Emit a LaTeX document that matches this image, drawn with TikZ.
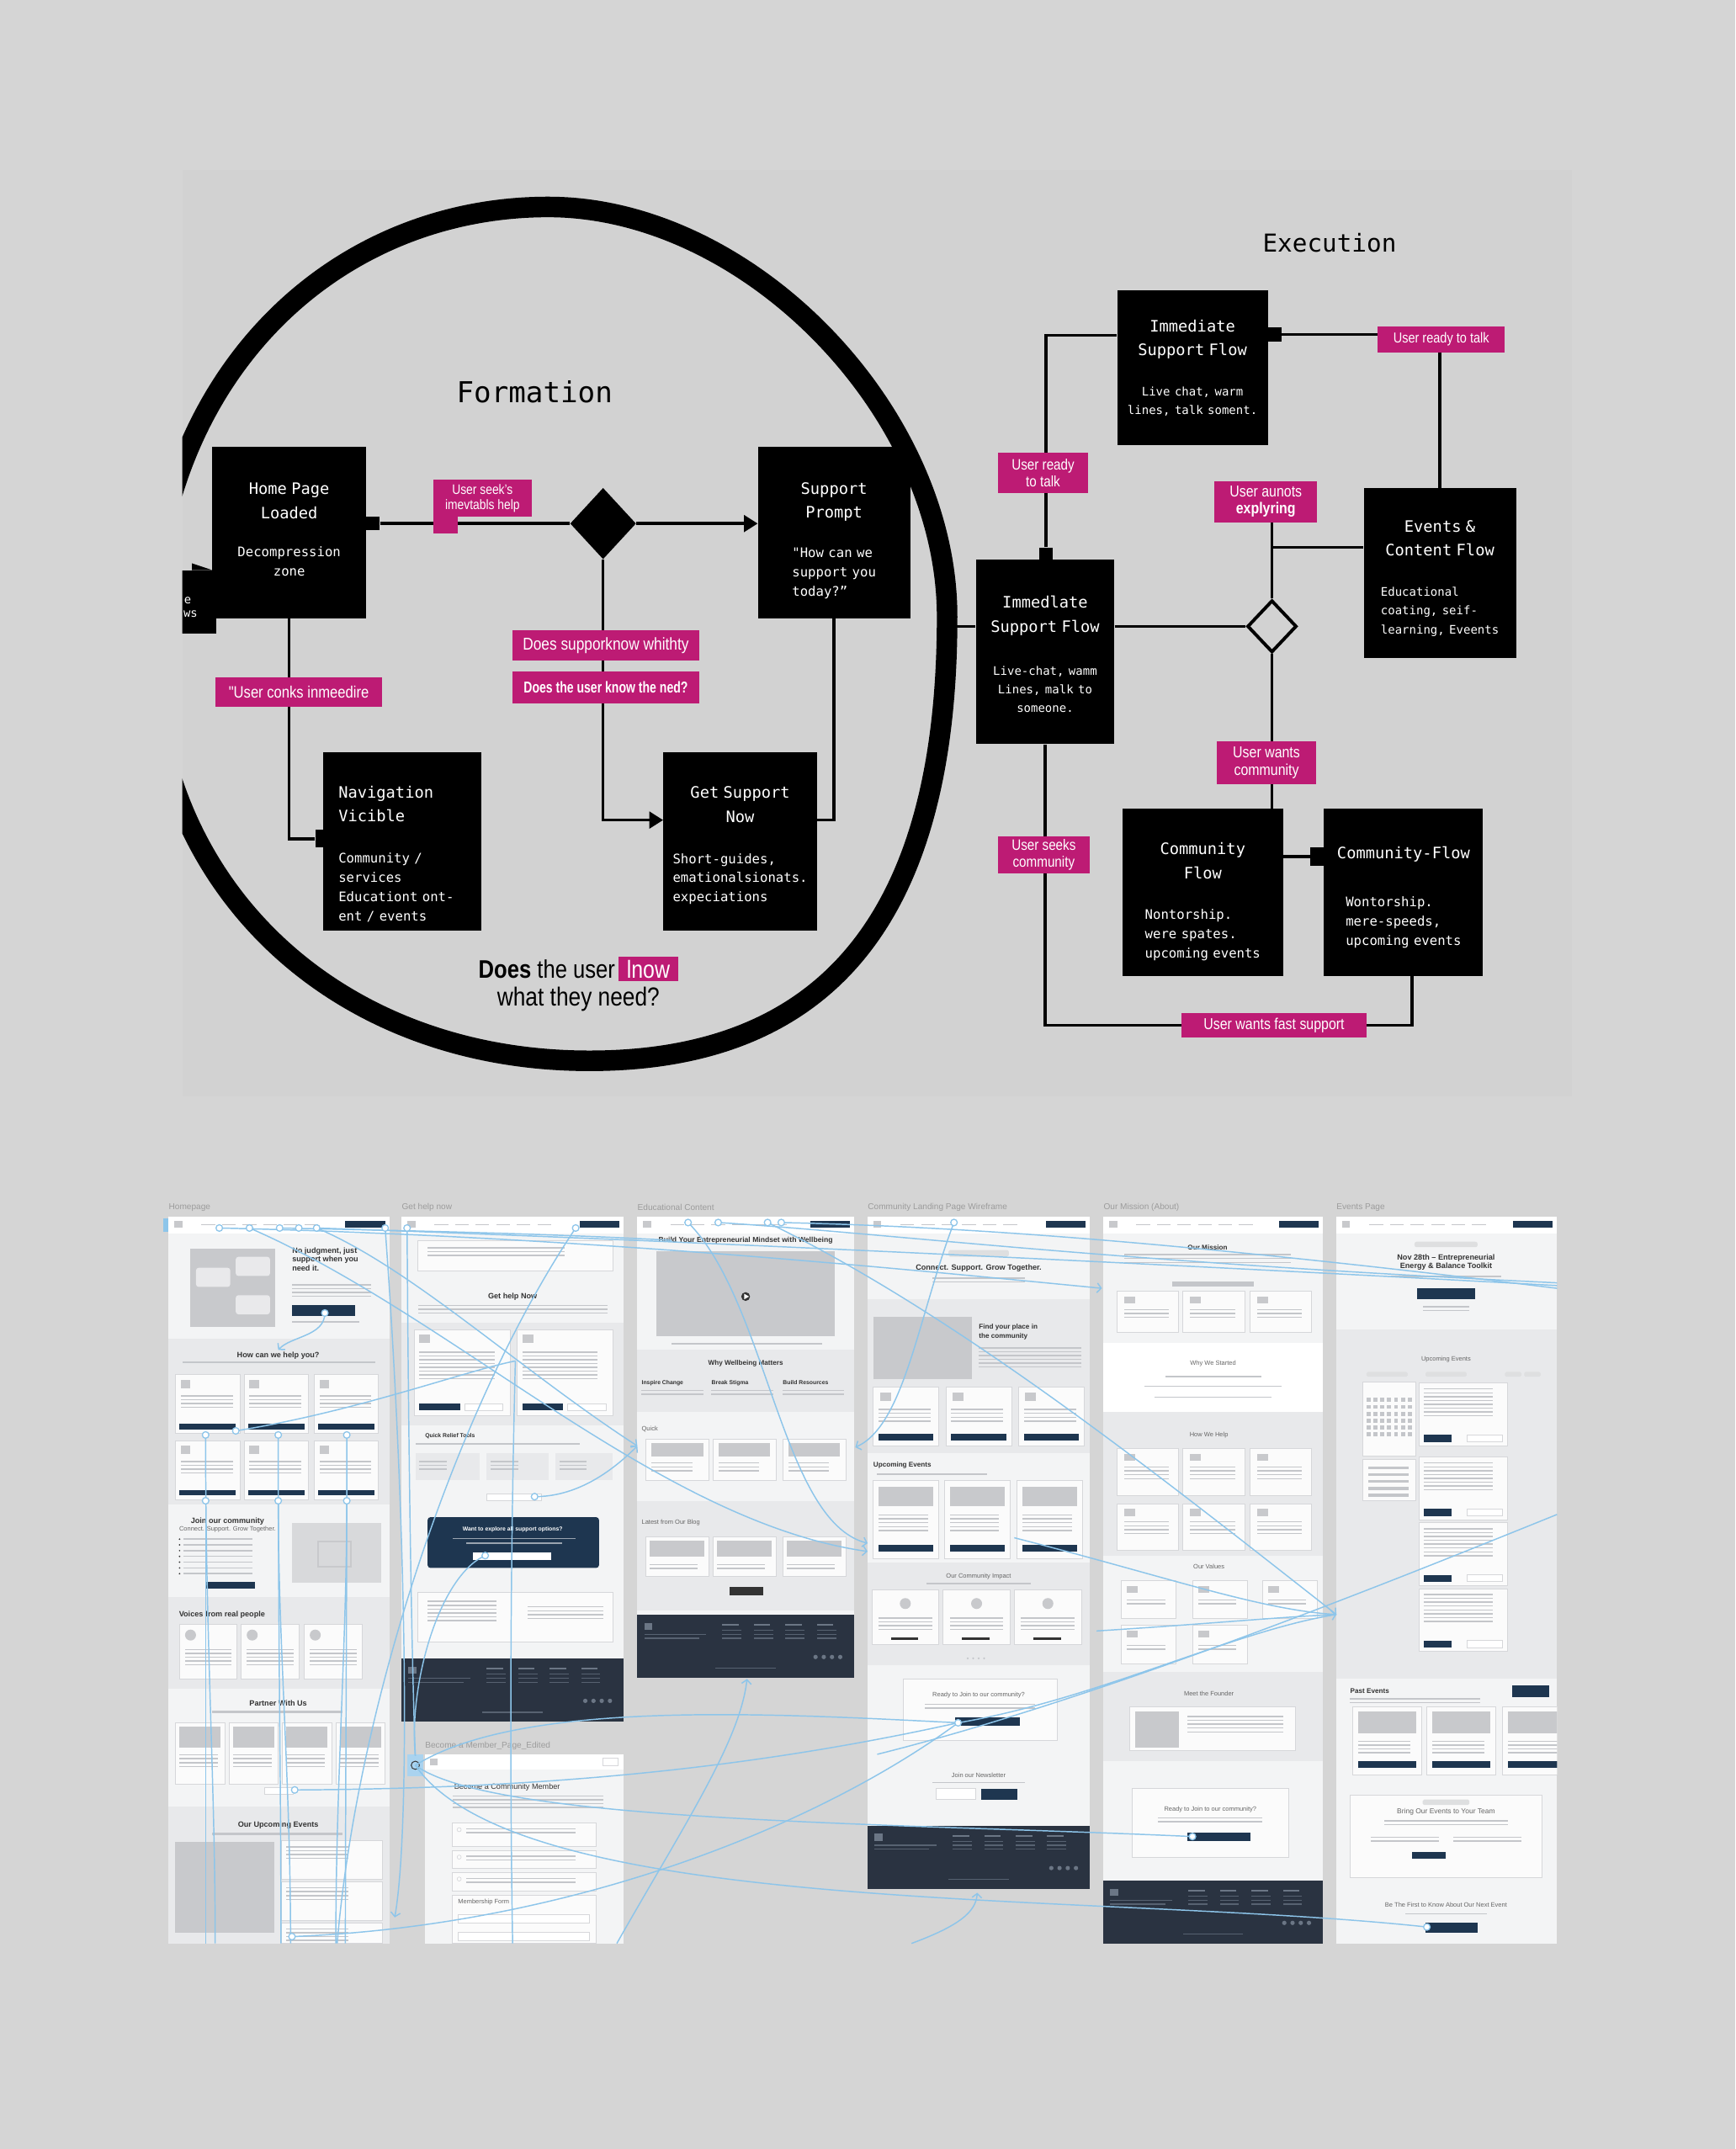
\documentclass[tikz,border=0pt]{standalone}
\usepackage{fontspec}
\setmainfont{Liberation Sans}
\newfontfamily\monofont{DejaVu Sans Mono}
\newfontfamily\condfont[FakeStretch=0.85]{Liberation Sans}
\newfontfamily\narrowfont[FakeStretch=0.75]{Liberation Sans}
\usepackage{xcolor}
\usepackage{tikz}
\usetikzlibrary{calc, shapes.geometric, arrows.meta, positioning}

\definecolor{pagebg}{HTML}{D5D5D5}
\definecolor{panelbg}{HTML}{D2D2D2}
\definecolor{tagpink}{HTML}{BD1B74}
\definecolor{wfpage}{HTML}{F3F4F5}
\definecolor{wfband}{HTML}{E8E9EB}
\definecolor{wfcard}{HTML}{FBFBFB}
\definecolor{wfedge}{HTML}{D6D7DA}
\definecolor{wfimg}{HTML}{C8C9CC}
\definecolor{wfline}{HTML}{C4C6CA}
\definecolor{wfnavy}{HTML}{1E3650}
\definecolor{wffoot}{HTML}{2A3341}
\definecolor{footln}{HTML}{6B7685}
\definecolor{wftext}{HTML}{333333}
\definecolor{wfsub}{HTML}{666666}
\definecolor{wflabel}{HTML}{9C9C9C}
\definecolor{linkblue}{HTML}{8DC5EA}

% box text
\newcommand{\ttl}{\monofont\fontsize{11.5}{17.5}\selectfont}
\newcommand{\bdy}{\monofont\fontsize{9.6}{14}\selectfont}
\newcommand{\bdys}{\monofont\fontsize{8.6}{13.6}\selectfont}

% wireframe helpers
\newcommand{\wflines}[4]{%
  \foreach \k in {1,...,#4}{\fill[wfline] ({#1},{#2+2.8*(\k-1)}) rectangle ++(#3,0.9);}}
\newcommand{\wfnav}[2]{%
  \fill[white] (#1,888) rectangle (#2,900);
  \fill[wfimg] ({#1+4},891) rectangle ++(6,5);
  \foreach \t in {0,...,5}{\fill[wfline] ({#1+24+\t*15},893) rectangle ++(10,1);}
  \fill[wfnavy] ({#2-32},891) rectangle ({#2-3},896);}
\newcommand{\wffoot}[4]{%
  \fill[wffoot] (#1,#2) rectangle (#3,#4);
  \fill[footln] ({#1+5},{#2+6}) rectangle ++(6,5);
  \fill[footln!70!wffoot] ({#1+5},{#2+14}) rectangle ++(45,0.7);
  \fill[footln!70!wffoot] ({#1+5},{#2+17}) rectangle ++(40,0.7);
  \foreach \t in {0,1,2,3}{%
    \fill[footln] ({#1+62+\t*23},{#2+7}) rectangle ++(12,1);
    \foreach \r in {1,2,3}{\fill[footln!70!wffoot] ({#1+62+\t*23},{#2+8+3*\r}) rectangle ++(14,0.7);}
    \fill[footln] ({#3-28+\t*6},{#4-15}) circle (1.6);}
  \fill[footln!70!wffoot] ({(#1+#3)/2-22},{#4-7}) rectangle ++(44,0.7);}

\tikzset{
  flowbox/.style={fill=black, inner sep=0pt},
  boxtext/.style={text=white, inner sep=0pt, align=center},
  stub/.style={fill=black, inner sep=0pt, minimum width=10pt, minimum height=10pt},
  flowline/.style={line width=2.2pt},
  flowarrow/.style={flowline, -{Triangle[length=10pt,width=12pt]}},
  tag/.style={fill=tagpink, text=white, inner sep=0pt, align=center,
    font=\condfont\fontsize{11}{12.5}\selectfont},
  wfcardst/.style={fill=wfcard, draw=wfedge, line width=0.4pt},
  wfhead/.style={inner sep=0pt, text=wftext, font=\bfseries\fontsize{5.6}{6.6}\selectfont},
  wfsub/.style={inner sep=0pt, text=wftext, font=\bfseries\fontsize{4.2}{5}\selectfont},
  wfsmall/.style={inner sep=0pt, text=wfsub, font=\fontsize{4.6}{5.6}\selectfont},
  wflab/.style={inner sep=0pt, text=wflabel, font=\fontsize{6.2}{7}\selectfont},
  link/.style={draw=linkblue, line width=0.9pt},
  linkend/.style={link, -{Straight Barb[length=3pt,width=7pt]}},
  linkdot/.style={draw=linkblue, fill=white, line width=0.8pt}
}

\begin{document}
\begin{tikzpicture}[x=1pt, y=-1pt]
    \useasboundingbox (0,0) rectangle (1266,1568);
    \fill[pagebg] (0,0) rectangle (1266,1568);
    \fill[panelbg] (133,124) rectangle (1147,800);

    % =================================================================
    % FORMATION
    % =================================================================
    \begin{scope}
        \clip (133,124) rectangle (1147,800);
        \draw[line width=15pt] (110,470) .. controls (110,278) and (240,151) .. (400,151)
            .. controls (546,151) and (691,300) .. (691,450)
            .. controls (691,667) and (605,774) .. (430,774)
            .. controls (244,774) and (110,646) .. cycle;
        % clipped box at the left edge
        \fill (120,416) rectangle (158,462);
        \fill (140,411) -- (155,416) -- (140,416) -- cycle;
        \node[text=white, inner sep=0pt, font=\monofont\fontsize{8.5}{9}\selectfont] (cute) at (137,438) {e};
        \node[text=white, inner sep=0pt, font=\monofont\fontsize{8.5}{9}\selectfont] (cuws) at (139,448) {ws};
    \end{scope}

    \node[inner sep=0pt, font=\monofont\fontsize{21}{24}\selectfont] (formtitle) at (390,286) {Formation};

    \node[flowbox, minimum width=112pt, minimum height=125pt] (home) at (211,388.5) {};
    \node[boxtext, text width=110pt] (hometext) at ($(home.center)+(0,-2)$)
        {{\ttl Home Page\\Loaded\par}\vspace{14pt}{\bdy Decompression\\zone\par}};
    \node[flowbox, minimum width=111pt, minimum height=125pt] (support) at (608.5,388.5) {};
    \node[boxtext, text width=109pt] (supporttext) at ($(support.center)+(0,7)$)
        {{\ttl Support\\Prompt\par}\vspace{15pt}{\bdy\begin{tabular}[t]{@{}l@{}}"How can we\\support you\\today?”\end{tabular}\par}};
    \node[flowbox, minimum width=115pt, minimum height=130pt] (navig) at (293.5,614) {};
    \node[boxtext, text width=93pt, align=left] (navigtext) at ($(navig.center)+(0,9)$)
        {{\ttl Navigation\\Vicible\par}\vspace{16pt}{\bdy Community /\\services\\Educationt ont-\\ent / events\par}};
    \node[flowbox, minimum width=112pt, minimum height=130pt] (getnow) at (540,614) {};
    \node[boxtext, text width=110pt] (getnowtext) at ($(getnow.center)+(0,4)$)
        {{\ttl Get Support\\Now\par}\vspace{16pt}{\bdy\begin{tabular}[t]{@{}l@{}}Short-guides,\\emationalsionats.\\expeciations\end{tabular}\par}};

    \node[diamond, fill=black, minimum width=48pt, minimum height=52pt, inner sep=0pt] (ask) at (440,382) {};
    \node[stub] (homestub) at (272,382) {};
    \node[stub, minimum width=8pt, minimum height=13pt] (navstub) at (234,612) {};

    \draw[flowline] (homestub.east) -- (ask.west);
    \draw[flowarrow] (ask.east) -- (ask.east -| support.west);
    \draw[flowarrow] (ask.south) |- ($(getnow.north west)!0.38!(getnow.south west)$);
    \draw[flowline] (home.south) |- (navstub.west);
    \draw[flowline] (support.south) |- ($(getnow.north east)!0.38!(getnow.south east)$);

    \node[tag, minimum width=72pt, minimum height=27pt, font=\condfont\fontsize{10}{11}\selectfont] (tagseek) at (352,363.5) {User seek’s\\imevtabls help};
    \fill[tagpink] (316,376) rectangle (334,389);
    \node[tag, minimum width=136pt, minimum height=22pt, font=\condfont\fontsize{12.5}{14}\selectfont] (tagwhy) at (442,471) {Does supporknow whithty};
    \node[tag, minimum width=136pt, minimum height=23pt, font=\narrowfont\bfseries\fontsize{11.5}{14}\selectfont] (tagneed) at (442,501.5) {Does the user know the ned?};
    \node[tag, minimum width=122pt, minimum height=22pt, font=\condfont\fontsize{12}{14}\selectfont] (tagconks) at (218,505) {"User conks inmeedire};

    \node[inner sep=0pt, anchor=east, font=\condfont\fontsize{18.5}{20}\selectfont] (askline) at (449,707) {\textbf{Does} the user};
    \node[tag, minimum width=44pt, minimum height=18pt, font=\condfont\fontsize{18}{20}\selectfont] (asktag) at (473,707) {lnow};
    \node[inner sep=0pt, font=\condfont\fontsize{19}{20}\selectfont] (askline2) at (422,729) {what they need?};

    % =================================================================
    % EXECUTION
    % =================================================================
    \node[inner sep=0pt, font=\monofont\fontsize{18}{22}\selectfont] (exectitle) at (970,177) {Execution};

    \node[flowbox, minimum width=110pt, minimum height=113pt] (topflow) at (870,268.5) {};
    \node[boxtext, text width=108pt] (topflowtext) at (topflow.center)
        {{\ttl Immediate\\Support Flow\par}\vspace{16pt}{\bdys Live chat, warm\\lines, talk soment.\par}};
    \node[flowbox, minimum width=101pt, minimum height=135pt] (leftflow) at (762.5,475.5) {};
    \node[boxtext, text width=100pt] (leftflowtext) at ($(leftflow.center)+(0,2)$)
        {{\ttl Immedlate\\Support Flow\par}\vspace{18pt}{\bdys Live-chat, wamm\\Lines, malk to\\someone.\par}};
    \node[flowbox, minimum width=111pt, minimum height=124pt] (events) at (1050.5,418) {};
    \node[boxtext, text width=109pt] (eventstext) at ($(events.center)+(0,5)$)
        {{\ttl Events \&\\Content Flow\par}\vspace{16pt}{\bdys\begin{tabular}[t]{@{}l@{}}Educational\\coating, seif-\\learning, Eveents\end{tabular}\par}};
    \node[flowbox, minimum width=117pt, minimum height=122pt] (commflow) at (877.5,651) {};
    \node[boxtext, text width=115pt] (commflowtext) at ($(commflow.center)+(0,8)$)
        {{\ttl Community\\Flow\par}\vspace{16pt}{\bdy\begin{tabular}[t]{@{}l@{}}Nontorship.\\were spates.\\upcoming events\end{tabular}\par}};
    \node[flowbox, minimum width=116pt, minimum height=122pt] (cflow) at (1024,651) {};
    \node[boxtext, text width=114pt] (cflowtext) at ($(cflow.center)+(0,5)$)
        {{\ttl Community-Flow\par}\vspace{21pt}{\bdy\begin{tabular}[t]{@{}l@{}}Wontorship.\\mere-speeds,\\upcoming events\end{tabular}\par}};

    \node[diamond, draw=black, line width=2.4pt, minimum width=36pt, minimum height=38pt, inner sep=0pt] (pick) at (928,457) {};
    \node[stub, minimum height=9pt] (litop) at (763,404) {};
    \node[stub] (topstub) at (930,244) {};
    \node[stub, minimum height=13pt] (cfstub) at (961,625) {};
    \coordinate (ringedge) at (697,457);
    \coordinate (cfout) at ($(cflow.south)+(6,0)$);
    \coordinate (evin) at ($(events.north west)!0.35!(events.south west)$);

    \draw[flowline] (ringedge) -- (ringedge -| leftflow.west);
    \draw[flowline] (litop.north) |- ($(topflow.north west)!0.29!(topflow.south west)$);
    \draw[flowline] (topstub.east) -| (events.north);
    \draw[flowline] (pick.west -| leftflow.east) -- (pick.west);
    \draw[flowline] (pick.north) -- (pick.north |- 0,381);
    \draw[flowline] (evin -| pick.north) -- (evin);
    \draw[flowline] (pick.south) -- (pick.south |- commflow.north);
    \draw[flowline] (cfstub.west -| commflow.east) -- (cfstub.west);
    \draw[flowline] (leftflow.south) |- ($(cfout)+(0,36)$) -- (cfout);

    \node[tag, minimum width=66pt, minimum height=30pt] (tagtalk) at (761,345) {User ready\\to talk};
    \node[tag, minimum width=93pt, minimum height=19pt, font=\condfont\fontsize{10.5}{12}\selectfont] (tagtalk2) at (1051.5,247.5) {User ready to talk};
    \node[tag, minimum width=75pt, minimum height=30pt, font=\condfont\fontsize{11.5}{12.5}\selectfont] (tagexplore) at (923.5,366) {User aunots\\\textbf{explyring}};
    \node[tag, minimum width=72pt, minimum height=31pt, font=\condfont\fontsize{11.5}{13}\selectfont] (tagwants) at (924,556.5) {User wants\\community};
    \node[tag, minimum width=67pt, minimum height=27pt] (tagseeks) at (761.5,623.5) {User seeks\\community};
    \node[tag, minimum width=135pt, minimum height=18pt, font=\condfont\fontsize{11.5}{13}\selectfont] (tagfast) at (929.5,748) {User wants fast support};

    % =================================================================
    % WIREFRAMES - HOMEPAGE
    % =================================================================
    \fill[linkblue] (119,889) rectangle (123,899);
    \node[wflab, anchor=west] (labhome) at (123,881) {Homepage};
    \fill[wfpage] (123,888) rectangle (284,1418);
    \wfnav{123}{284}
    \fill[wfimg] (139,911) rectangle (201,968);
    \foreach \bx/\by in {143/925, 172/917, 172/945}{\fill[white!60!wfimg, rounded corners=2pt] (\bx,\by) rectangle ++(25,14);}
    \node[wfhead, anchor=north west, align=left] (herohome) at (213,910) {No judgment, just\\support when you\\need it.};
    \wflines{213}{937}{58}{4}
    \fill[wfnavy] (213,952) rectangle (259,960);
    \fill[wfline] (213,964) rectangle (262,965.2);
    \fill[wfband] (123,977) rectangle (284,1098);
    \node[wfhead] (helphome) at (203,989) {How can we help you?};
    \fill[wfline] (133,993.5) rectangle (274,994.4);
    \foreach \cx in {128,178,229}{\foreach \cy in {1003,1051}{
        \filldraw[wfcardst] (\cx,\cy) rectangle ++(47,43);
        \fill[wfimg] ({\cx+4},{\cy+4}) rectangle ++(7,6);
        \wflines{\cx+4}{\cy+15}{38}{4}
        \fill[wfnavy] ({\cx+3},{\cy+36}) rectangle ++(41,4);}}
    \node[wfhead] (joinhome) at (166,1110) {Join our community};
    \node[wfsmall] (joinsub) at (166,1116) {Connect. Support. Grow Together.};
    \foreach \k in {0,...,6}{\fill[wftext] (131,{1123+4.2*\k}) circle (0.6); \fill[wfline] (134,{1122.5+4.2*\k}) rectangle ++(50,0.9);}
    \fill[wfnavy] (150,1154) rectangle (186,1159);
    \fill[wfimg!70!white] (213,1111) rectangle (278,1155);
    \draw[wfimg, line width=1.2pt] (232,1125) rectangle (256,1143);
    \fill[wfband] (123,1165) rectangle (284,1232);
    \node[wfhead] (voicehome) at (162,1178) {Voices from real people};
    \foreach \cx in {131,176,222}{\filldraw[wfcardst] (\cx,1185) rectangle ++(42,40); \fill[wfimg] ({\cx+8},1193) circle (4); \wflines{\cx+4}{1203}{34}{5}}
    \node[wfhead] (partnerhome) at (203,1243) {Partner With Us};
    \fill[wfline] (155,1248) rectangle (250,1250);
    \foreach \cx in {128,167,206,245}{\filldraw[wfcardst] (\cx,1257) rectangle ++(36,45); \fill[wfimg] ({\cx+3},1260) rectangle ++(30,15); \wflines{\cx+3}{1280}{28}{4}}
    \draw[wfedge, fill=white] (193,1304) rectangle (214,1309);
    \fill[wfband] (123,1318) rectangle (284,1418);
    \node[wfhead] (eventhome) at (203,1332) {Our Upcoming Events};
    \fill[wfline] (155,1337) rectangle (250,1339);
    \fill[wfimg] (128,1344) rectangle (200,1410);
    \foreach \cy in {1343,1373,1403}{\filldraw[wfcardst] (205,\cy) rectangle (279,{min(\cy+28,1418)}); \wflines{209}{\cy+4}{45}{4}}

    % =================================================================
    % GET HELP NOW + BECOME A MEMBER
    % =================================================================
    \node[wflab, anchor=west] (labhelp) at (293,881) {Get help now};
    \fill[wfpage] (293,888) rectangle (455,1210);
    \wfnav{293}{455}
    \filldraw[wfcardst] (305,905) rectangle (447,927);
    \wflines{312}{910}{100}{3}
    \node[wfhead] (helpnow) at (374,946) {Get help Now};
    \wflines{305}{952}{138}{3}
    \fill[wfband] (293,965) rectangle (455,1040);
    \foreach \cx in {302,377}{\filldraw[wfcardst] (\cx,970) rectangle ++(70,63); \fill[wfimg] ({\cx+4},974) rectangle ++(8,6); \wflines{\cx+4}{986}{55}{8} \fill[wfnavy] ({\cx+4},1024) rectangle ++(30,5); \draw[wfedge, fill=white] ({\cx+37},1024) rectangle ++(28,5);}
    \node[wfsub, anchor=west] (quickhelp) at (310,1048) {Quick Relief Tools};
    \wflines{303}{1053}{120}{1}
    \foreach \cx/\w in {303/47, 355/45, 405/42}{\fill[wfband] (\cx,1060) rectangle ++(\w,20); \wflines{\cx+3}{1066}{20}{3}}
    \draw[wfedge, fill=white] (355,1090) rectangle (395,1095);
    \fill[wfnavy, rounded corners=2pt] (312,1107) rectangle (437,1144);
    \node[wfsub, text=white] (explorehelp) at (374,1116) {Want to explore all support options?};
    \fill[white!55!wfnavy] (330,1122) rectangle (420,1122.9);
    \fill[white!55!wfnavy] (340,1125.5) rectangle (410,1126.4);
    \fill[white] (345,1133) rectangle (402,1138);
    \filldraw[wfcardst] (305,1162) rectangle (447,1198);
    \wflines{312}{1168}{50}{6}
    \wflines{385}{1172}{55}{4}
    \wffoot{293}{1210}{455}{1256}

    \node[wflab, anchor=west] (labmember) at (310,1274) {Become a Member\_Page\_Edited};
    \fill[wfpage] (310,1280) rectangle (455,1418);
    \fill[white] (310,1280) rectangle (455,1291);
    \fill[wfimg] (314,1283) rectangle ++(5,5);
    \draw[wfedge] (440,1283) rectangle (451,1288);
    \node[wfhead, font=\fontsize{5.6}{6.6}\selectfont] (membertitle) at (370,1304) {Become a Community Member};
    \wflines{330}{1310}{110}{4}
    \foreach \cy/\h in {1330/17, 1350/13, 1366/14}{\filldraw[wfcardst] (330,\cy) rectangle ++(105,\h); \draw[wfedge] (335,{\cy+5}) circle (1.5); \wflines{340}{\cy+4}{80}{2}}
    \filldraw[wfcardst] (330,1383) rectangle (435,1418);
    \node[wfsmall, anchor=west] (memberform) at (334,1388) {Membership Form};
    \foreach \cy in {1397,1410}{\draw[wfedge, fill=white] (334,\cy) rectangle ++(96,6);}
    \fill[linkblue!75!white] (297,1280) rectangle (309,1296);
    \draw[wftext, line width=0.6pt] (303,1288) circle (3);

    % =================================================================
    % EDUCATIONAL CONTENT
    % =================================================================
    \node[wflab, anchor=west] (labedu) at (465,881) {Educational Content};
    \fill[wfpage] (465,888) rectangle (623,1178);
    \wfnav{465}{623}
    \node[wfhead, font=\bfseries\fontsize{5.3}{6}\selectfont] (edutitle) at (544,905) {Build Your Entrepreneurial Mindset with Wellbeing};
    \fill[wfimg] (479,913) rectangle (609,975);
    \fill[wftext] (544,946) circle (3.2);
    \fill[white] (543,944) -- (546.5,946) -- (543,948) -- cycle;
    \wflines{490}{980}{110}{1}
    \fill[wfband] (465,985) rectangle (623,1030);
    \node[wfhead, font=\bfseries\fontsize{5}{6}\selectfont] (eduwhy) at (544,995) {Why Wellbeing Matters};
    \foreach \cx/\t/\n in {468/Inspire Change/eduinsp, 519/Break Stigma/edubreak, 571/Build Resources/edubuild}{\node[wfsub, anchor=west] (\n) at (\cx,1009) {\t}; \wflines{\cx}{1014}{45}{2}}
    \node[wfsmall, anchor=west] (eduquick) at (468,1043) {Quick};
    \foreach \cx in {471,520,571}{\filldraw[wfcardst] (\cx,1050) rectangle ++(46,30); \fill[wfimg] ({\cx+4},1053) rectangle ++(38,10); \wflines{\cx+4}{1067}{30}{3}}
    \fill[wfband] (465,1095) rectangle (623,1175);
    \node[wfsmall, anchor=west] (edublog) at (468,1111) {Latest from Our Blog};
    \foreach \cx in {471,520,571}{\filldraw[wfcardst] (\cx,1121) rectangle ++(46,29); \fill[wfimg] ({\cx+3},1124) rectangle ++(40,12); \wflines{\cx+3}{1141}{35}{2}}
    \fill[wftext] (532,1158) rectangle (557,1164);
    \wffoot{465}{1178}{623}{1224}

    % =================================================================
    % COMMUNITY LANDING
    % =================================================================
    \node[wflab, anchor=west] (labcomm) at (633,881) {Community Landing Page Wireframe};
    \fill[wfpage] (633,888) rectangle (795,1332);
    \wfnav{633}{795}
    \fill[wfimg!60!white, rounded corners=1.5pt] (692,912) rectangle (736,917);
    \node[wfhead] (commtitle) at (714,925) {Connect. Support. Grow Together.};
    \wflines{680}{932}{68}{2}
    \fill[wfband] (633,948) rectangle (795,1060);
    \fill[wfimg] (637,961) rectangle (709,1006);
    \node[wfhead, font=\bfseries\fontsize{5}{6.5}\selectfont, anchor=north west, align=left] (commplace) at (714,966) {Find your place in\\the community};
    \wflines{714}{983}{75}{6}
    \foreach \cx in {637,690,743}{\filldraw[wfcardst] (\cx,1012) rectangle ++(48,43); \fill[wfimg] ({\cx+5},1016) rectangle ++(8,6); \wflines{\cx+4}{1028}{38}{4} \fill[wfnavy] ({\cx+4},1046) rectangle ++(40,5);}
    \node[wfhead, font=\bfseries\fontsize{5}{6}\selectfont, anchor=west] (commevents) at (637,1069) {Upcoming Events};
    \fill[wfline] (640,1075) rectangle (720,1076.5);
    \foreach \cx in {637,689,742}{\filldraw[wfcardst] (\cx,1080) rectangle ++(48,57); \fill[wfimg] ({\cx+4},1085) rectangle ++(40,14); \wflines{\cx+4}{1105}{36}{5} \fill[wfnavy] ({\cx+4},1127) rectangle ++(40,5);}
    \fill[wfband] (633,1140) rectangle (795,1215);
    \node[wfsmall] (commimpact) at (714,1150) {Our Community Impact};
    \fill[wfline] (676,1155) rectangle (752,1156);
    \foreach \cx in {636,688,740}{\filldraw[wfcardst] (\cx,1160) rectangle ++(49,40); \fill[wfimg] ({\cx+24.5},1170) circle (4); \wflines{\cx+5}{1180}{39}{4} \fill[wftext] ({\cx+14},1195) rectangle ++(20,1.5);}
    \foreach \dx in {0,...,3}{\fill[wfline] ({706+4*\dx},1210) circle (0.8);}
    \filldraw[wfcardst] (659,1225) rectangle (771,1270);
    \node[wfsmall] (commready) at (714,1237) {Ready to Join to our community?};
    \wflines{675}{1243}{80}{2}
    \fill[wfnavy] (697,1253) rectangle (744,1259);
    \node[wfsmall] (commnews) at (714,1295) {Join our Newsletter};
    \wflines{680}{1300}{68}{1}
    \draw[wfedge, fill=white] (683,1305) rectangle (712,1313);
    \fill[wfnavy] (716,1305) rectangle (742,1313);
    \wffoot{633}{1332}{795}{1378}

    % =================================================================
    % OUR MISSION
    % =================================================================
    \node[wflab, anchor=west] (labmission) at (805,881) {Our Mission (About)};
    \fill[wfpage] (805,888) rectangle (965,1372);
    \wfnav{805}{965}
    \node[wfhead, font=\bfseries\fontsize{5}{6}\selectfont] (missiontitle) at (881,910) {Our Mission};
    \wflines{820}{915}{122}{3}
    \fill[wfline] (855,935) rectangle (915,939);
    \foreach \cx in {815,863,912}{\filldraw[wfcardst] (\cx,942) rectangle ++(45,30); \fill[wfimg] ({\cx+5},946) rectangle ++(8,5); \wflines{\cx+5}{955}{33}{3}}
    \fill[white] (805,980) rectangle (965,1030);
    \node[wfsmall] (missionwhy) at (885,995) {Why We Started};
    \foreach \cy/\w in {1004/70, 1011/100, 1019/85}{\fill[wfline] ({885-\w/2},\cy) rectangle ++(\w,0.9);}
    \fill[wfband] (805,1030) rectangle (965,1135);
    \node[wfsmall] (missionhelp) at (882,1047) {How We Help};
    \foreach \cx in {815,863,912}{\foreach \cy in {1057,1097}{\filldraw[wfcardst] (\cx,\cy) rectangle ++(45,34); \fill[wfimg] ({\cx+5},{\cy+4}) rectangle ++(8,5); \wflines{\cx+5}{\cy+13}{33}{4}}}
    \node[wfsmall] (missionvalues) at (882,1143) {Our Values};
    \foreach \cx/\cy in {818/1153, 870/1153, 921/1153, 818/1186, 870/1186}{\filldraw[wfcardst] (\cx,\cy) rectangle ++(40,28); \fill[wfimg] ({\cx+4},{\cy+4}) rectangle ++(8,5); \wflines{\cx+4}{\cy+14}{28}{2}}
    \fill[wfband] (805,1220) rectangle (965,1285);
    \node[wfsmall] (missionfounder) at (882,1236) {Meet the Founder};
    \filldraw[wfcardst] (824,1245) rectangle (945,1277);
    \fill[wfimg] (828,1249) rectangle (860,1275);
    \wflines{866}{1252}{70}{5}
    \filldraw[wfcardst] (826,1305) rectangle (940,1355);
    \node[wfsmall] (missionready) at (883,1320) {Ready to Join to our community?};
    \wflines{845}{1326}{76}{2}
    \fill[wfnavy] (866,1337) rectangle (912,1343);
    \wffoot{805}{1372}{965}{1418}

    % =================================================================
    % EVENTS PAGE
    % =================================================================
    \node[wflab, anchor=west] (labevents) at (975,881) {Events Page};
    \begin{scope}
        \clip (975,888) rectangle (1136,1418);
        \fill[wfpage] (975,888) rectangle (1136,1418);
        \wfnav{975}{1136}
        \fill[wfimg!60!white, rounded corners=1.5pt] (1032,906) rectangle (1078,910);
        \node[wfhead, align=center] (eventtitle) at (1055,921) {Nov 28th -- Entrepreneurial\\Energy \& Balance Toolkit};
        \wflines{1015}{931}{80}{1}
        \fill[wfnavy] (1034,940) rectangle (1076,948);
        \wflines{1038}{953}{34}{2}
        \fill[wfband] (975,970) rectangle (1136,1225);
        \node[wfsmall] (eventupcoming) at (1055,992) {Upcoming Events};
        \foreach \cx/\w in {997/30, 1040/30, 1098/12, 1112/12}{\fill[wfimg!60!white, rounded corners=1pt] (\cx,1001) rectangle ++(\w,3.5);}
        \filldraw[wfcardst] (994,1008) rectangle (1033,1062);
        \foreach \r in {0,...,5}{\foreach \c in {0,...,6}{\fill[wfline] ({997+5*\c},{1020+5*\r}) rectangle ++(3,3);}}
        \filldraw[wfcardst] (994,1065) rectangle (1033,1095);
        \foreach \r in {0,...,4}{\fill[wfline] (998,{1070+5*\r}) rectangle ++(30,2);}
        \foreach \cy in {1009,1063,1111,1159}{\filldraw[wfcardst] (1035,\cy) rectangle ++(65,46); \wflines{1039}{\cy+4}{50}{8} \fill[wfnavy] (1039,{\cy+38}) rectangle ++(20,5); \draw[wfedge, fill=white] (1070,{\cy+38}) rectangle ++(26,5);}
        \node[wfhead, font=\bfseries\fontsize{5}{6}\selectfont, anchor=west] (eventpast) at (985,1234) {Past Events};
        \fill[wfnavy] (1103,1230) rectangle (1130,1238);
        \wflines{985}{1239}{95}{2}
        \foreach \cx in {987,1041,1096}{\filldraw[wfcardst] (\cx,1245) rectangle ++(50,50); \fill[wfimg] ({\cx+4},1249) rectangle ++(42,16); \wflines{\cx+4}{1270}{38}{4} \fill[wfnavy] ({\cx+4},1285) rectangle ++(42,5);}
        \filldraw[wfcardst] (985,1310) rectangle (1125,1370);
        \fill[wfimg!60!white, rounded corners=1pt] (1038,1313) rectangle (1072,1317);
        \node[wfsmall, font=\fontsize{5.2}{6}\selectfont] (eventteam) at (1055,1322) {Bring Our Events to Your Team};
        \wflines{1010}{1328}{90}{2}
        \wflines{1000}{1340}{50}{2}
        \wflines{1060}{1340}{50}{2}
        \fill[wfnavy] (1030,1351) rectangle (1055,1356);
        \node[wfsmall] (eventnext) at (1055,1390) {Be The First to Know About Our Next Event};
        \wflines{1025}{1396}{60}{1}
        \fill[wfnavy] (1040,1403) rectangle (1078,1410);
    \end{scope}

    % =================================================================
    % PROTOTYPE LINKS
    % =================================================================
    \foreach \lx/\ly/\ex in {150/1047/157, 150/1095/150, 203/1047/205, 203/1095/212, 253/1047/252, 253/1095/245}{
        \draw[link] (\lx,\ly) .. controls (\lx,1200) and (\ex,1300) .. (\ex,1418);}
    \draw[linkend] (160,896) .. controls (420,902) and (650,925) .. (804,940);
    \draw[link] (231,896) .. controls (500,905) and (900,925) .. (1136,938);
    \draw[link] (204,896) .. controls (300,898) and (400,900) .. (490,905);
    \draw[linkend] (231,896) .. controls (300,925) and (380,1000) .. (465,1055);
    \draw[linkend] (182,896) .. controls (330,960) and (480,1110) .. (633,1132);
    \draw[link] (297,896) .. controls (298,1050) and (300,1200) .. (303,1281);
    \draw[linkend] (281,896) .. controls (296,1100) and (300,1330) .. (288,1399);
    \draw[link] (420,896) .. controls (330,1030) and (260,1250) .. (246,1418);
    \draw[link] (172,1044) .. controls (260,1030) and (340,1000) .. (376,993);
    \draw[link] (376,993) .. controls (372,1150) and (372,1300) .. (374,1418);
    \draw[linkend] (237,958) .. controls (237,975) and (212,975) .. (203,985);
    \draw[linkend] (390,1092) .. controls (420,1092) and (445,1075) .. (465,1055);
    \draw[link] (354,1135) .. controls (320,1150) and (298,1230) .. (303,1281);
    \draw[link] (303,1288) .. controls (380,1240) and (560,1250) .. (699,1257);
    \draw[link] (303,1288) .. controls (360,1330) and (650,1330) .. (870,1340);
    \draw[link] (303,1288) .. controls (380,1400) and (800,1380) .. (1041,1406);
    \draw[link] (215,1306) .. controls (400,1305) and (550,1290) .. (699,1257);
    \draw[link] (213,1413) .. controls (420,1405) and (600,1330) .. (699,1257);
    \draw[linkend] (699,1257) .. controls (800,1240) and (900,1190) .. (975,1178);
    \draw[link] (640,1280) .. controls (800,1240) and (1000,1160) .. (1136,1105);
    \draw[linkend] (450,1418) .. controls (500,1330) and (540,1270) .. (545,1225);
    \draw[linkend] (665,1418) .. controls (700,1405) and (712,1395) .. (713,1381);
    \draw[linkend] (502,892) .. controls (560,950) and (570,1110) .. (633,1126);
    \draw[linkend] (696,892) .. controls (670,960) and (660,1040) .. (624,1056);
    \draw[link] (524,892) .. controls (650,900) and (800,920) .. (1136,936);
    \draw[linkend] (560,892) .. controls (700,960) and (850,1080) .. (975,1178);
    \draw[link] (570,892) .. controls (700,895) and (850,905) .. (1136,940);
    \draw[link] (740,1122) .. controls (850,1150) and (920,1175) .. (975,1178);
    \draw[link] (800,1190) .. controls (880,1185) and (930,1180) .. (975,1178);

    \foreach \dx/\dy in {160/896, 182/896, 204/896, 218/896, 231/896, 281/896, 297/896, 420/896,
        150/1047, 150/1095, 203/1047, 203/1095, 253/1047, 253/1095, 172/1044, 237/958, 390/1092,
        354/1135, 215/1306, 213/1413, 699/1257, 870/1340, 1041/1406, 502/892, 524/892, 560/892,
        570/892, 696/892}{
        \draw[linkdot] (\dx,\dy) circle (2.4);}

\end{tikzpicture}
\end{document}
